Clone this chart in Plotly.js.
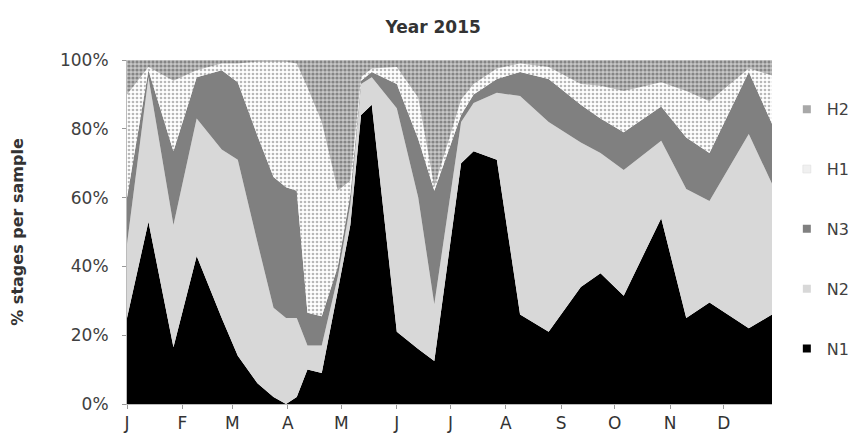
<!DOCTYPE html>
<html>
<head>
<meta charset="utf-8">
<script src="https://cdn.plot.ly/plotly-3.0.1.min.js"></script>
<style>
  html, body { margin: 0; padding: 0; background: #ffffff; }
  #chart { width: 856px; height: 443px; }
</style>
</head>
<body>
<div id="chart"></div>
<script>
// Sampling dates (2015)
const dates = [
  '2015-01-01','2015-01-13','2015-01-27','2015-02-09','2015-02-23','2015-03-04',
  '2015-03-15','2015-03-24','2015-03-31','2015-04-06','2015-04-12','2015-04-20',
  '2015-04-29','2015-05-06','2015-05-12','2015-05-18','2015-06-01','2015-06-13',
  '2015-06-22','2015-07-07','2015-07-14','2015-07-27','2015-08-09','2015-08-25',
  '2015-09-12','2015-09-23','2015-10-06','2015-10-27','2015-11-10','2015-11-23',
  '2015-12-15','2015-12-28'
];
// % of each stage per sample
const N1 = [25, 53, 16.5, 43, 25, 14, 6, 2, 0, 2, 10, 9, 33, 52, 84, 87, 21, 16, 12.5, 70, 73.5, 71, 26, 21, 34, 38, 31.5, 54, 25, 29.5, 22, 26];
const N2 = [21.5, 42, 35.5, 40, 49, 57, 41, 26, 25, 23, 7, 8, 4, 6, 9, 8, 65, 44, 16.5, 12, 14, 19.5, 63.5, 61, 42, 35, 36.5, 22.5, 37.5, 29.5, 56.5, 38];
const N3 = [13.5, 2, 21.5, 12, 23, 22.5, 31, 38, 38, 37, 9.5, 8.5, 3, 3, 1, 1.5, 7, 17, 33, 2, 2.5, 4, 7, 12.5, 11, 10, 11, 10, 15, 14, 18, 17.5];
const H1 = [30, 1, 20.5, 2, 2, 5.5, 21.5, 33.5, 36.5, 37, 65.5, 56.5, 22, 4, 1, 1, 5, 12, 1, 4.5, 3, 3, 2.5, 3.5, 6, 9.5, 12, 7, 13.5, 15, 1, 14];
const H2 = [10, 2, 6, 3, 1, 1, 0.5, 0.5, 0.5, 1, 8, 18, 38, 35, 5, 2.5, 2, 11, 37, 11.5, 7, 2.5, 1, 2, 7, 7.5, 9, 6.5, 9, 12, 2.5, 4.5];

const monthTicks = ['2015-01-01','2015-02-01','2015-03-01','2015-04-01','2015-05-01','2015-06-01',
                    '2015-07-01','2015-08-01','2015-09-01','2015-10-01','2015-11-01','2015-12-01'];
const monthLabels = ['J','F','M','A','M','J','J','A','S','O','N','D'];

const seriesNames = ['N1','N2','N3','H1','H2'];
const seriesValues = [N1, N2, N3, H1, H2];
const fills = ['#000000', '#d8d8d8', '#808080', '#ffffff', '#bdbdbd'];
const patterns = [
  null, null, null,
  {shape: '.', fgcolor: '#b8b8b8', bgcolor: '#ffffff', size: 4, solidity: 0.35},
  {shape: '.', fgcolor: '#858585', bgcolor: '#c8c8c8', size: 4, solidity: 0.5}
];
const legendColors = ['#000000', '#d8d8d8', '#808080', '#f0f0f0', '#a8a8a8'];

const traces = [];
seriesNames.forEach((name, i) => {
  const t = {
    type: 'scatter', x: dates, y: seriesValues[i], name: name,
    mode: 'none', stackgroup: 'one', groupnorm: i === 0 ? 'percent' : undefined,
    fillcolor: fills[i], line: {width: 0}, showlegend: false, hoverinfo: 'skip'
  };
  if (patterns[i]) t.fillpattern = patterns[i];
  traces.push(t);
});
// legend entries, top to bottom: H2, H1, N3, N2, N1
for (let i = seriesNames.length - 1; i >= 0; i--) {
  traces.push({
    type: 'scatter', x: [null], y: [null], name: seriesNames[i], mode: 'markers',
    legendgroup: seriesNames[i], showlegend: true,
    marker: {symbol: 'square', size: 8, color: legendColors[i],
             line: {width: i === 3 ? 0.5 : 0, color: '#dddddd'}}
  });
}

const layout = {
  width: 856, height: 443,
  margin: {l: 127, r: 84, t: 60, b: 39, autoexpand: false},
  paper_bgcolor: '#ffffff', plot_bgcolor: '#ffffff',
  font: {family: 'DejaVu Sans, Liberation Sans, Arial, sans-serif', color: '#404040', size: 16},
  title: {text: '<b>Year 2015</b>', x: 0.506, xanchor: 'center', y: 0.938, yanchor: 'middle',
          font: {size: 17, color: '#333333'}},
  xaxis: {
    type: 'date', range: ['2015-01-01', '2015-12-28'],
    tickvals: monthTicks, ticktext: monthLabels,
    ticks: 'outside', ticklen: 4, tickcolor: '#999999',
    showline: true, linecolor: '#bbbbbb', showgrid: false, zeroline: false,
    tickfont: {size: 17, color: '#333333'}
  },
  yaxis: {
    range: [0, 100], dtick: 20, ticksuffix: '%',
    ticks: 'outside', ticklen: 4, tickcolor: '#999999',
    ticklabelstandoff: 10,
    showline: true, linecolor: '#bbbbbb', showgrid: false, zeroline: false,
    tickfont: {size: 17, color: '#404040'},
    title: {text: '<b>% stages per sample</b>', font: {size: 16, color: '#333333'}, standoff: 32}
  },
  legend: {
    x: 1.023, xanchor: 'left', y: 0.906, yanchor: 'top',
    traceorder: 'grouped', tracegroupgap: 36,
    font: {size: 16, color: '#404040'}, bgcolor: 'rgba(0,0,0,0)',
    itemwidth: 30
  },
  showlegend: true
};

Plotly.newPlot('chart', traces, layout, {staticPlot: true, displayModeBar: false});
</script>
</body>
</html>
